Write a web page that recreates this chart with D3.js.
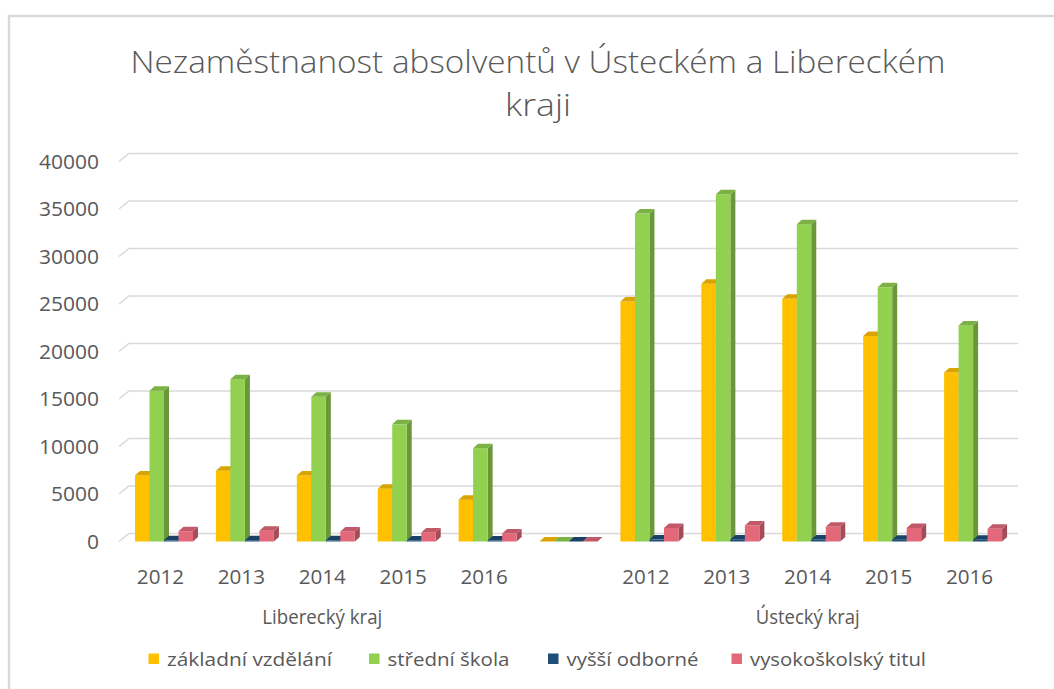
<!DOCTYPE html>
<html>
<head>
<meta charset="utf-8">
<script src="https://cdn.jsdelivr.net/npm/d3@7"></script>
<style>
  body { margin: 0; background: #fff; }
  text { font-family: "Open Sans", "DejaVu Sans", sans-serif; fill: #595959; }
</style>
</head>
<body>
<script>
// categories: 5 years per region, one empty slot between the regions
var years = ["2012", "2013", "2014", "2015", "2016"];
var regions = ["Liberecký kraj", "Ústecký kraj"];
var categories = ["2012", "2013", "2014", "2015", "2016", "", "2012", "2013", "2014", "2015", "2016"];
var seriesNames = ["základní vzdělání", "střední škola", "vyšší odborné", "vysokoškolský titul"];
var seriesColors = ["#FFC000", "#92D050", "#1F4E79", "#E3697A"];

var zakladni = [6950, 7440, 6950, 5550, 4400, 0, 25260, 27120, 25540, 21630, 17790];
var stredni  = [15870, 17090, 15230, 12330, 9820, 0, 34520, 36550, 33400, 26760, 22750];
var vyssi    = [120, 130, 120, 110, 100, 0, 200, 220, 210, 190, 180];
var vysoko   = [1080, 1130, 1060, 960, 840, 0, 1430, 1680, 1540, 1430, 1330];
var yTicks = [0, 5000, 10000, 15000, 20000, 25000, 30000, 35000, 40000];

var series = [zakladni, stredni, vyssi, vysoko];

var W = 1054, H = 689;
var svg = d3.select("body").append("svg").attr("width", W).attr("height", H);

// chart frame
svg.append("rect").attr("x", 9).attr("y", 16).attr("width", W + 10).attr("height", H + 10)
  .attr("fill", "none").attr("stroke", "#D9D9D9").attr("stroke-width", 2.5);

// title
svg.append("text").attr("x", 538).attr("y", 73).attr("text-anchor", "middle")
  .style("font-size", "31px").style("font-weight", 300)
  .attr("textLength", 815).attr("lengthAdjust", "spacingAndGlyphs")
  .text("Nezaměstnanost absolventů v Ústeckém a Libereckém");
svg.append("text").attr("x", 538).attr("y", 116).attr("text-anchor", "middle")
  .style("font-size", "31px").style("font-weight", 300)
  .attr("textLength", 66).attr("lengthAdjust", "spacingAndGlyphs")
  .text("kraji");

var y = d3.scaleLinear().domain([0, 40000]).range([541.5, 161.5]);
var x = d3.scaleBand().domain(d3.range(categories.length)).range([120, 1010]);
var x1 = d3.scaleBand().domain(d3.range(series.length)).range([15, 73]);

var wallDx = 10, wallDy = -8;
var dx = 5, dy = -4.5;

// gridlines (back wall + floor edge)
var grid = svg.append("g");
yTicks.forEach(function(v) {
  var yy = y(v);
  grid.append("path")
    .attr("d", "M119," + yy + "L" + (119 + wallDx) + "," + (yy + wallDy) + "L1018," + (yy + wallDy))
    .attr("fill", "none").attr("stroke", "#D9D9D9").attr("stroke-width", 1.6);
});

// y axis labels
svg.append("g").selectAll("text").data(yTicks).join("text")
  .attr("x", 99).attr("y", d => y(d)).attr("dy", "0.36em")
  .attr("text-anchor", "end").style("font-size", "19.5px")
  .attr("textLength", d => String(d).length * 12).attr("lengthAdjust", "spacingAndGlyphs")
  .text(d => d);

// bars with 3d faces
var bars = svg.append("g");
categories.forEach(function(c, i) {
  series.forEach(function(s, k) {
    var v = s[i];
    var col = d3.color(seriesColors[k]);
    var x0 = x(i) + x1(k), w = x1.bandwidth();
    var yb = y(0), yt = y(v);
    var g = bars.append("g");
    // side
    g.append("path")
      .attr("d", "M" + (x0 + w) + "," + yb + "L" + (x0 + w + dx) + "," + (yb + dy) +
        "L" + (x0 + w + dx) + "," + (yt + dy) + "L" + (x0 + w) + "," + yt + "Z")
      .attr("fill", col.darker(0.9));
    // front
    if (yb - yt > 0.5) {
      g.append("rect").attr("x", x0).attr("y", yt).attr("width", w).attr("height", yb - yt)
        .attr("fill", col);
    }
    // top
    g.append("path")
      .attr("d", "M" + x0 + "," + yt + "L" + (x0 + dx) + "," + (yt + dy) +
        "L" + (x0 + w + dx) + "," + (yt + dy) + "L" + (x0 + w) + "," + yt + "Z")
      .attr("fill", col.darker(0.45));
  });
});

// category labels
svg.append("g").selectAll("text").data(categories).join("text")
  .attr("x", (d, i) => x(i) + x.bandwidth() / 2).attr("y", 577).attr("dy", "0.36em")
  .attr("text-anchor", "middle").style("font-size", "19.5px")
  .attr("textLength", d => d.length * 11.8).attr("lengthAdjust", "spacingAndGlyphs")
  .text(d => d);

// region labels
var regionCenter = [(x(0) + x(4) + x.bandwidth()) / 2, (x(6) + x(10) + x.bandwidth()) / 2];
svg.append("g").selectAll("text").data(regions).join("text")
  .attr("x", (d, i) => regionCenter[i]).attr("y", 617).attr("dy", "0.36em")
  .attr("text-anchor", "middle").style("font-size", "20.5px")
  .attr("textLength", (d, i) => [120, 104][i]).attr("lengthAdjust", "spacingAndGlyphs")
  .text(d => d);

// legend
var legX = [148.5, 369, 548, 731.5];
var legLen = [165, 122, 132, 176];
var leg = svg.append("g").selectAll("g").data(seriesNames).join("g")
  .attr("transform", (d, i) => "translate(" + legX[i] + ",659)");
leg.append("rect").attr("x", 0).attr("y", -5.5).attr("width", 10.5).attr("height", 10.5)
  .attr("fill", (d, i) => seriesColors[i]);
leg.append("text").attr("x", 18.5).attr("dy", "0.36em").style("font-size", "19px")
  .attr("textLength", (d, i) => legLen[i]).attr("lengthAdjust", "spacingAndGlyphs")
  .text(d => d);
</script>
</body>
</html>
